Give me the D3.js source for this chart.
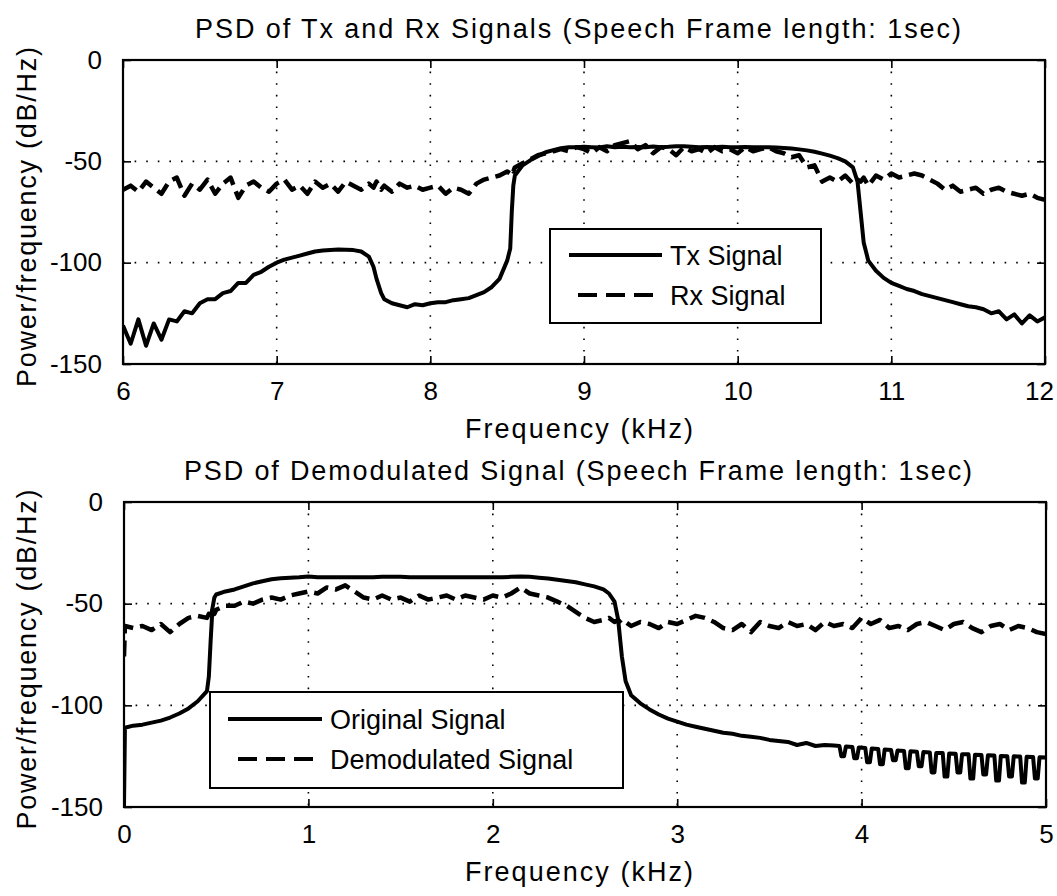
<!DOCTYPE html>
<html>
<head>
<meta charset="utf-8">
<script src="https://cdn.jsdelivr.net/npm/d3@7"></script>
<style>
  body { margin: 0; background: #fff; }
  svg { display: block; }
  text { font-family: "Liberation Sans", Arial, Helvetica, sans-serif; fill: #000; }
</style>
</head>
<body>
<svg id="chart"></svg>
<script>
// ---- top panel: Tx / Rx PSD (6 - 12 kHz) ----
const topFreq = [
  6.00,6.05,6.10,6.15,6.20,6.25,6.30,6.35,6.40,6.45,6.50,6.55,6.60,6.65,6.70,6.75,6.80,6.85,6.90,6.95,
  7.00,7.05,7.10,7.15,7.20,7.25,7.30,7.35,7.40,7.45,7.50,7.55,7.60,7.63,7.65,7.68,7.70,7.75,7.80,7.85,7.90,7.95,
  8.00,8.05,8.10,8.15,8.20,8.25,8.30,8.35,8.40,8.45,8.50,8.52,8.53,8.54,8.55,8.60,8.65,8.70,8.75,8.80,8.85,8.90,8.95,
  9.00,9.05,9.10,9.15,9.20,9.25,9.30,9.35,9.40,9.45,9.50,9.55,9.60,9.65,9.70,9.75,9.80,9.85,9.90,9.95,
  10.00,10.05,10.10,10.15,10.20,10.25,10.30,10.35,10.40,10.45,10.50,10.55,10.60,10.65,10.70,10.75,10.78,10.80,10.82,10.85,10.90,10.95,
  11.00,11.05,11.10,11.15,11.20,11.25,11.30,11.35,11.40,11.45,11.50,11.55,11.60,11.65,11.70,11.75,11.80,11.85,11.90,11.95,
  12.00
];
const txDb = [
  -131,-140,-128,-141,-130,-138,-128,-129,-124,-125,-120,-118,-118,-115,-114,-110,-110,-106,-104.5,-102,
  -100,-98.5,-97.5,-96.5,-95.5,-94.5,-94,-93.7,-93.5,-93.6,-93.8,-94.5,-97,-102,-108,-115,-118,-120,-121,-122,-120.5,-121,
  -120,-119.5,-119.5,-118.5,-118,-117.5,-116,-114.5,-112,-108,-99,-93,-75,-62,-57,-52,-49.5,-47.5,-45.5,-44.5,-43.5,-43,-43,
  -42.8,-43,-43.2,-42.6,-43,-42.8,-43.1,-42.9,-43,-42.7,-43,-42.8,-42.5,-42.6,-42.8,-43,-42.9,-43,-42.8,-43,
  -43,-42.9,-43,-43,-43.1,-43.2,-43.4,-43.7,-44.1,-44.6,-45.3,-46.2,-47.2,-48.4,-50,-53,-60,-75,-90,-99,-104,-107.5,
  -110,-111.5,-113,-114,-115.5,-116.5,-117.5,-118.5,-119.5,-120.5,-121.5,-122,-123,-125,-124,-128,-125.5,-130,-126,-129,
  -127
];
const rxDb = [
  -64,-62,-65,-60,-63,-66,-60,-58,-67,-61,-64,-59,-66,-61,-58,-68,-62,-60,-63,-65,
  -61,-59,-64,-62,-66,-60,-63,-61,-65,-60,-62,-64,-61,-63,-60,-64,-62,-65,-61,-63,-62,-64,
  -63,-62,-66,-63,-64,-66,-61,-59,-58,-57,-55,-56,-54,-55,-53,-51,-49,-47,-46,-45,-44,-45,-43,
  -44,-46,-43,-45,-42,-41,-40,-44,-42,-46,-43,-44,-47,-43,-45,-44,-46,-43,-45,-44,
  -46,-43,-45,-44,-43,-45,-46,-48,-47,-53,-52,-60,-58,-60,-57,-61,-59,-60,-58,-62,-57,-59,
  -56,-58,-57,-56,-57,-59,-61,-64,-62,-65,-64,-63,-66,-64,-63,-65,-66,-67,-66,-68,
  -69
];
const topTicksX = [6, 7, 8, 9, 10, 11, 12];

// ---- bottom panel: original / demodulated PSD (0 - 5 kHz) ----
const botFreq = [
  0,0.005,0.05,0.10,0.15,0.20,0.25,0.30,0.35,0.40,0.45,0.46,0.47,0.48,0.49,
  0.50,0.55,0.60,0.65,0.70,0.75,0.80,0.85,0.90,0.95,
  1.00,1.05,1.10,1.15,1.20,1.25,1.30,1.35,1.40,1.45,1.50,1.55,1.60,1.65,1.70,1.75,1.80,1.85,1.90,1.95,
  2.00,2.05,2.10,2.15,2.20,2.25,2.30,2.35,2.40,2.45,2.50,2.55,2.60,2.63,2.66,2.68,2.70,2.72,2.75,2.80,2.85,2.90,2.95,
  3.00,3.05,3.10,3.15,3.20,3.25,3.30,3.35,3.40,3.45,3.50,3.55,3.60,3.65,3.70,3.75,3.80,3.85,3.90,3.95,
  4.00,4.05,4.10,4.15,4.20,4.25,4.30,4.35,4.40,4.45,4.50,4.55,4.60,4.65,4.70,4.75,4.80,4.85,4.90,4.95,
  5.00
];
// original signal up to 3.8 kHz (same grid as botFreq)
const origDb = [
  -150,-111,-110,-109.5,-108.5,-107.5,-106,-104,-101.5,-98,-93,-86,-68,-52,-47,
  -45.5,-44,-43,-41.5,-40,-39,-38,-37.5,-37.2,-37,
  -36.6,-37,-37,-37,-37,-37,-37,-37,-36.8,-36.8,-36.8,-37,-37,-37,-37,-37,-37,-37,-37,-37,
  -37,-37,-36.8,-36.6,-36.8,-37.2,-37.6,-38.2,-38.8,-39.5,-40.5,-41.5,-43,-45,-49,-58,-76,-88,-95,-99,-102,-104.5,-106.5,
  -108,-109.5,-110.5,-111.5,-112.5,-113.5,-114,-115,-115.5,-116,-117,-117.5,-118,-119.5,-118.5,-120,-119.5
];
// original signal tail, 3.85 - 5 kHz, with its comb of downward teeth
const combFreq = [
  3.85,3.88,3.89,3.905,3.915,3.95,3.96,3.975,3.985,4.02,4.03,4.045,4.055,4.09,4.10,4.115,4.125,
  4.16,4.17,4.185,4.195,4.23,4.24,4.255,4.265,4.30,4.31,4.325,4.335,4.37,4.38,4.395,4.405,
  4.44,4.45,4.465,4.475,4.51,4.52,4.535,4.545,4.58,4.59,4.605,4.615,4.65,4.66,4.675,4.685,
  4.72,4.73,4.745,4.755,4.79,4.80,4.815,4.825,4.86,4.87,4.885,4.895,4.93,4.94,4.955,4.965,5.00
];
const combDb = [
  -119.8,-120,-125,-125,-120.2,-120.5,-126,-126,-120.7,-121,-128,-128,-121.2,-121.5,-129,-129,-121.7,
  -122,-127,-127,-122.2,-122.4,-131,-131,-122.6,-122.8,-130,-130,-123,-123.2,-133,-133,-123.4,
  -123.5,-135,-135,-123.7,-123.8,-133,-133,-124,-124.1,-136,-136,-124.3,-124.4,-134,-134,-124.6,
  -124.7,-137,-137,-124.9,-125,-135,-135,-125.1,-125.2,-138,-138,-125.3,-125.4,-136,-136,-125.5,-125.6
];
const demodDb = [
  -76,-61,-62,-61,-63,-60,-64,-60,-57,-56,-57,-55,-57,-53,-55,
  -53,-51,-51,-49,-50,-48,-47,-48,-46,-45,
  -44,-45,-42,-43,-41,-44,-47,-48,-46,-48,-47,-49,-46,-48,-47,-46,-48,-46,-47,-48,
  -46,-47,-45,-42,-45,-46,-47,-49,-51,-54,-57,-59,-58,-57,-59,-58,-60,-59,-61,-59,-60,-62,-59,
  -60,-58,-56,-57,-59,-62,-63,-60,-64,-59,-61,-62,-59,-61,-60,-63,-59,-61,-60,-62,
  -57,-60,-58,-62,-61,-63,-60,-59,-61,-63,-60,-59,-62,-64,-61,-60,-63,-61,-62,-64,
  -65
];
const botTicksX = [0, 1, 2, 3, 4, 5];

const dbTicks = [0, -50, -100, -150];

const width = 1057, height = 896;
const svg = d3.select("#chart").attr("width", width).attr("height", height);

function drawPanel(cfg) {
  const { box, xDomain, xTicks, solid, dashed, title, titleLen, legend, id } = cfg;
  const x = d3.scaleLinear().domain(xDomain).range([box.left, box.right]);
  const y = d3.scaleLinear().domain([-150, 0]).range([box.bottom, box.top]);
  const g = svg.append("g");

  g.append("clipPath").attr("id", id)
    .append("rect")
    .attr("x", box.left).attr("y", box.top)
    .attr("width", box.right - box.left).attr("height", box.bottom - box.top);

  // dotted grid
  g.append("g").selectAll("line").data(xTicks.slice(1, -1)).join("line")
    .attr("x1", d => x(d)).attr("x2", d => x(d))
    .attr("y1", box.top).attr("y2", box.bottom)
    .attr("stroke", "#000").attr("stroke-width", 1.6).attr("stroke-dasharray", "1.6,10");
  g.append("g").selectAll("line").data(dbTicks.slice(1, -1)).join("line")
    .attr("x1", box.left).attr("x2", box.right)
    .attr("y1", d => y(d)).attr("y2", d => y(d))
    .attr("stroke", "#000").attr("stroke-width", 1.6).attr("stroke-dasharray", "1.6,10");

  const line = d3.line().x(d => x(d[0])).y(d => y(d[1]));
  const plot = g.append("g").attr("clip-path", `url(#${id})`);
  plot.append("path").datum(dashed).attr("d", line)
    .attr("fill", "none").attr("stroke", "#000").attr("stroke-width", 4.5)
    .attr("stroke-dasharray", "16,7").attr("stroke-linejoin", "round");
  plot.append("path").datum(solid).attr("d", line)
    .attr("fill", "none").attr("stroke", "#000").attr("stroke-width", 4)
    .attr("stroke-linejoin", "round");

  // axes (ticks inside, on all four sides)
  const tickLen = 8;
  const fmt = d => String(d);
  const last = xTicks[xTicks.length - 1];
  g.append("g").attr("transform", `translate(0,${box.bottom})`)
    .call(d3.axisBottom(x).tickValues(xTicks).tickSize(-tickLen).tickPadding(tickLen + 10).tickFormat(fmt))
    .call(a => a.select(".domain").remove())
    .call(a => a.selectAll("line").attr("stroke-width", 1.6))
    .call(a => a.selectAll("text").attr("font-size", 26).attr("font-family", null)
      .attr("dx", d => (d === last && String(d).length > 1) ? -6 : 0));
  g.append("g").attr("transform", `translate(0,${box.top})`)
    .call(d3.axisTop(x).tickValues(xTicks).tickSize(-tickLen).tickFormat(""))
    .call(a => a.select(".domain").remove())
    .call(a => a.selectAll("line").attr("stroke-width", 1.6));
  g.append("g").attr("transform", `translate(${box.left},0)`)
    .call(d3.axisLeft(y).tickValues(dbTicks).tickSize(-tickLen).tickPadding(tickLen + 13).tickFormat(fmt))
    .call(a => a.select(".domain").remove())
    .call(a => a.selectAll("line").attr("stroke-width", 1.6))
    .call(a => a.selectAll("text").attr("font-size", 26).attr("font-family", null));
  g.append("g").attr("transform", `translate(${box.right},0)`)
    .call(d3.axisRight(y).tickValues(dbTicks).tickSize(-tickLen).tickFormat(""))
    .call(a => a.select(".domain").remove())
    .call(a => a.selectAll("line").attr("stroke-width", 1.6));

  g.append("rect")
    .attr("x", box.left).attr("y", box.top)
    .attr("width", box.right - box.left).attr("height", box.bottom - box.top)
    .attr("fill", "none").attr("stroke", "#000").attr("stroke-width", 2.2);

  // labels
  g.append("text").attr("x", 578).attr("y", box.top - 22)
    .attr("text-anchor", "middle").attr("font-size", 27)
    .attr("textLength", titleLen).text(title);
  g.append("text").attr("x", 579).attr("y", box.bottom + 74)
    .attr("text-anchor", "middle").attr("font-size", 27)
    .attr("textLength", 228).text("Frequency (kHz)");
  g.append("text")
    .attr("transform", `translate(36,${(box.top + box.bottom) / 2 + 5}) rotate(-90)`)
    .attr("text-anchor", "middle").attr("font-size", 27)
    .attr("textLength", 340).text("Power/frequency (dB/Hz)");

  // legend
  const L = legend;
  g.append("rect").attr("x", L.x).attr("y", L.y).attr("width", L.w).attr("height", L.h)
    .attr("fill", "#fff").attr("stroke", "#000").attr("stroke-width", 2);
  L.items.forEach((it, i) => {
    const ly = L.y + L.rowY[i];
    g.append("line").attr("x1", it.x1).attr("x2", L.lineEnd).attr("y1", ly).attr("y2", ly)
      .attr("stroke", "#000").attr("stroke-width", 4)
      .attr("stroke-dasharray", it.dash ? "19,9" : null);
    g.append("text").attr("x", L.lineEnd + 8).attr("y", ly).attr("dy", "0.36em")
      .attr("font-size", 27).text(it.label);
  });
}

const pairs = (f, v) => v.map((d, i) => [f[i], d]);

drawPanel({
  id: "clipTop",
  box: { left: 123, right: 1045, top: 60, bottom: 364 },
  xDomain: [6, 12], xTicks: topTicksX,
  solid: pairs(topFreq, txDb), dashed: pairs(topFreq, rxDb),
  title: "PSD of Tx and Rx Signals (Speech Frame length: 1sec)", titleLen: 766,
  legend: { x: 550, y: 229, w: 271, h: 94, lineEnd: 662, rowY: [26, 66],
    items: [{ label: "Tx Signal", x1: 569, dash: false }, { label: "Rx Signal", x1: 578, dash: true }] }
});

drawPanel({
  id: "clipBot",
  box: { left: 124, right: 1046, top: 502, bottom: 807 },
  xDomain: [0, 5], xTicks: botTicksX,
  solid: pairs(botFreq, origDb).concat(pairs(combFreq, combDb)),
  dashed: pairs(botFreq, demodDb),
  title: "PSD of Demodulated Signal (Speech Frame length: 1sec)", titleLen: 788,
  legend: { x: 210, y: 692, w: 413, h: 96, lineEnd: 322, rowY: [27, 67],
    items: [{ label: "Original Signal", x1: 228, dash: false }, { label: "Demodulated Signal", x1: 238, dash: true }] }
});
</script>
</body>
</html>
